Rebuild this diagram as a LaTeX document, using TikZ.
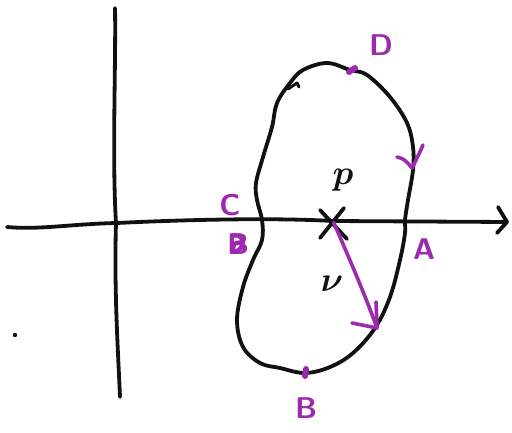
\documentclass[tikz,border=0pt]{standalone}
\usepackage{xcolor}
\usepackage{tikz}
\usetikzlibrary{arrows.meta,positioning,calc}
\definecolor{penpurple}{HTML}{9B2AAE}
\definecolor{penblack}{HTML}{111111}
\tikzset{
  ink/.style={draw=penblack,line width=1.9pt,line cap=round,line join=round},
  purpleink/.style={draw=penpurple,line width=1.8pt,line cap=round,line join=round},
  ptlabel/.style={text=penpurple,font=\fontsize{15}{15}\selectfont\sffamily\bfseries,inner sep=0pt},
  blacklabel/.style={text=penblack,font=\fontsize{17}{17}\selectfont\boldmath,inner sep=0pt}
}
\begin{document}
\begin{tikzpicture}[x=0.5pt,y=-0.5pt]
  \useasboundingbox (0,0) rectangle (512,432);
  % axes
  \coordinate (xstart) at (7,227);
  \coordinate (xend) at (507,222);
  \coordinate (ystart) at (115,8);
  \coordinate (yend) at (120,397);
  \draw[ink] (xstart) .. controls (40,230) and (70,224) .. (117,223)
    .. controls (200,219) and (280,218) .. (333,221) -- (xend);
  \draw[ink] (498,207) -- (xend) -- (497,233);
  \draw[ink] (ystart) .. controls (116,60) and (112,160) .. (116,223)
    .. controls (114,290) and (118,350) .. (yend);
  % closed curve
  \draw[ink] plot[smooth cycle,tension=0.6] coordinates {
    (327,63) (350,70) (367,75) (390,97) (407,123) (413,147) (413,170)
    (408,200) (405,220) (405,233) (400,260) (390,297) (375,328) (353,353)
    (330,367) (305,373) (280,368) (260,363) (243,347) (237,320) (243,287)
    (253,260) (262,240) (262,220) (257,200) (256,183) (263,157) (272,127)
    (277,103) (290,83) (303,70)};
  \draw[ink,line width=1.5pt] (288,89) -- (297,83) -- (299,87);
  % orientation mark
  \draw[purpleink] (397,157) .. controls (404,158) and (408,163) .. (412,168)
    .. controls (416,160) and (420,152) .. (423,145);
  % marked points on the curve
  \draw[purpleink,line width=3pt] (349,72) -- (355,68);
  \draw[purpleink,line width=3pt] (306,369) -- (305,376);
  % base point and vector
  \node[inner sep=0pt,minimum size=1pt] (p) at (333,221) {};
  \draw[ink] (320,210) -- (347,239);
  \draw[ink] (344,208) -- (320,238);
  \coordinate (vend) at (377,328);
  \draw[purpleink] (p) .. controls (350,260) and (365,295) .. (vend);
  \draw[purpleink] (352,323) -- (vend) -- (376,302);
  \node[blacklabel] (plabel) at (343,180) {$p$};
  \node[blacklabel] (vlabel) at (332,284) {$\nu$};
  % labels
  \node[ptlabel] (A) at (424,249) {A};
  \node[ptlabel] (B) at (306,408) {B};
  \node[ptlabel] (C) at (230,205) {C};
  \node[ptlabel] (D) at (381,45) {D};
  \node[ptlabel] (Bold) at (238,244) {B};
  \draw[purpleink,line width=2.2pt] (232,236) .. controls (246,232) and (246,250) .. (234,252)
    .. controls (230,244) and (240,238) .. (243,246);
  % stray dot
  \fill[penblack] (15,335) circle (2.2);
\end{tikzpicture}
\end{document}
